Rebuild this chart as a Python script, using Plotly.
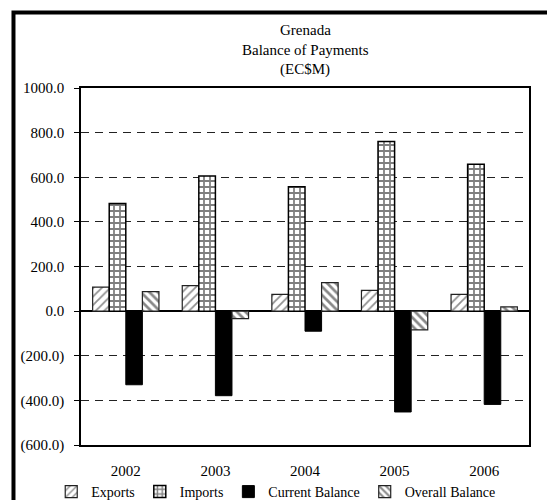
import plotly.graph_objects as go

# Grenada balance of payments, EC$ millions
years = ["2002", "2003", "2004", "2005", "2006"]
exports = [108, 114, 75, 93, 75]
imports = [482, 606, 557, 760, 658]
current_balance = [-330, -379, -90, -452, -418]
overall_balance = [87, -34, 128, -84, 19]

y_tick_vals = [1000, 800, 600, 400, 200, 0, -200, -400, -600]
y_tick_text = ["1000.0", "800.0", "600.0", "400.0", "200.0", "0.0",
               "(200.0)", "(400.0)", "(600.0)"]

FONT = "Liberation Serif"
OUTLINE = dict(color="#222222", width=1.2)

fig = go.Figure()
fig.add_trace(go.Bar(
    name="Exports", x=years, y=exports,
    marker=dict(color="white", line=OUTLINE,
                pattern=dict(shape="/", fgcolor="#222222", bgcolor="white",
                             size=6, solidity=0.3)),
))
fig.add_trace(go.Bar(
    name="Imports", x=years, y=imports,
    marker=dict(color="white", line=dict(color="black", width=1.5),
                pattern=dict(shape="+", fgcolor="black", bgcolor="white",
                             size=6, solidity=0.5)),
))
fig.add_trace(go.Bar(
    name="Current Balance", x=years, y=current_balance,
    marker=dict(color="black", line=dict(color="black", width=1)),
))
fig.add_trace(go.Bar(
    name="Overall Balance", x=years, y=overall_balance,
    marker=dict(color="white", line=OUTLINE,
                pattern=dict(shape="\\", fgcolor="#111111", bgcolor="white",
                             size=6, solidity=0.45)),
))

# outer frame around the whole chart
fig.add_shape(type="rect", xref="paper", yref="paper",
              x0=-0.1507, x1=1.06, y0=-0.2, y1=1.2115,
              line=dict(color="black", width=4), fillcolor="rgba(0,0,0,0)",
              layer="below")

# three-line heading
for text, ypx in [("Grenada", 30), ("Balance of Payments", 50), ("(EC$M)", 70)]:
    fig.add_annotation(text=text, xref="paper", yref="paper",
                       x=0.5, y=(445 - ypx) / 357, xanchor="center",
                       yanchor="middle", showarrow=False,
                       font=dict(family=FONT, size=15, color="black"))

fig.update_layout(
    width=547, height=500,
    margin=dict(l=81, r=18, t=88, b=55, autoexpand=False),
    paper_bgcolor="white", plot_bgcolor="white",
    font=dict(family=FONT, size=15, color="black"),
    barmode="group", bargap=0.26, bargroupgap=0,
    showlegend=True,
    legend=dict(orientation="h", xref="container", x=0.505, xanchor="center",
                yref="container", y=0.016, yanchor="middle",
                font=dict(family=FONT, size=14),
                itemwidth=30, tracegroupgap=0, bgcolor="rgba(0,0,0,0)"),
    xaxis=dict(showline=True, linecolor="black", linewidth=1.5, mirror=True,
               ticks="", showgrid=False, tickfont=dict(family=FONT, size=15),
               ticklabelstandoff=11, automargin=False),
    yaxis=dict(range=[-600, 1000], tickvals=y_tick_vals, ticktext=y_tick_text,
               showline=True, linecolor="black", linewidth=1.5, mirror=True,
               ticks="outside", ticklen=5, tickcolor="black",
               ticklabelstandoff=7,
               showgrid=True, gridcolor="#222222", gridwidth=1,
               griddash="8px,6px", automargin=False,
               zeroline=True, zerolinecolor="black", zerolinewidth=1.5,
               tickfont=dict(family=FONT, size=15)),
)

fig.write_html("out.html")
